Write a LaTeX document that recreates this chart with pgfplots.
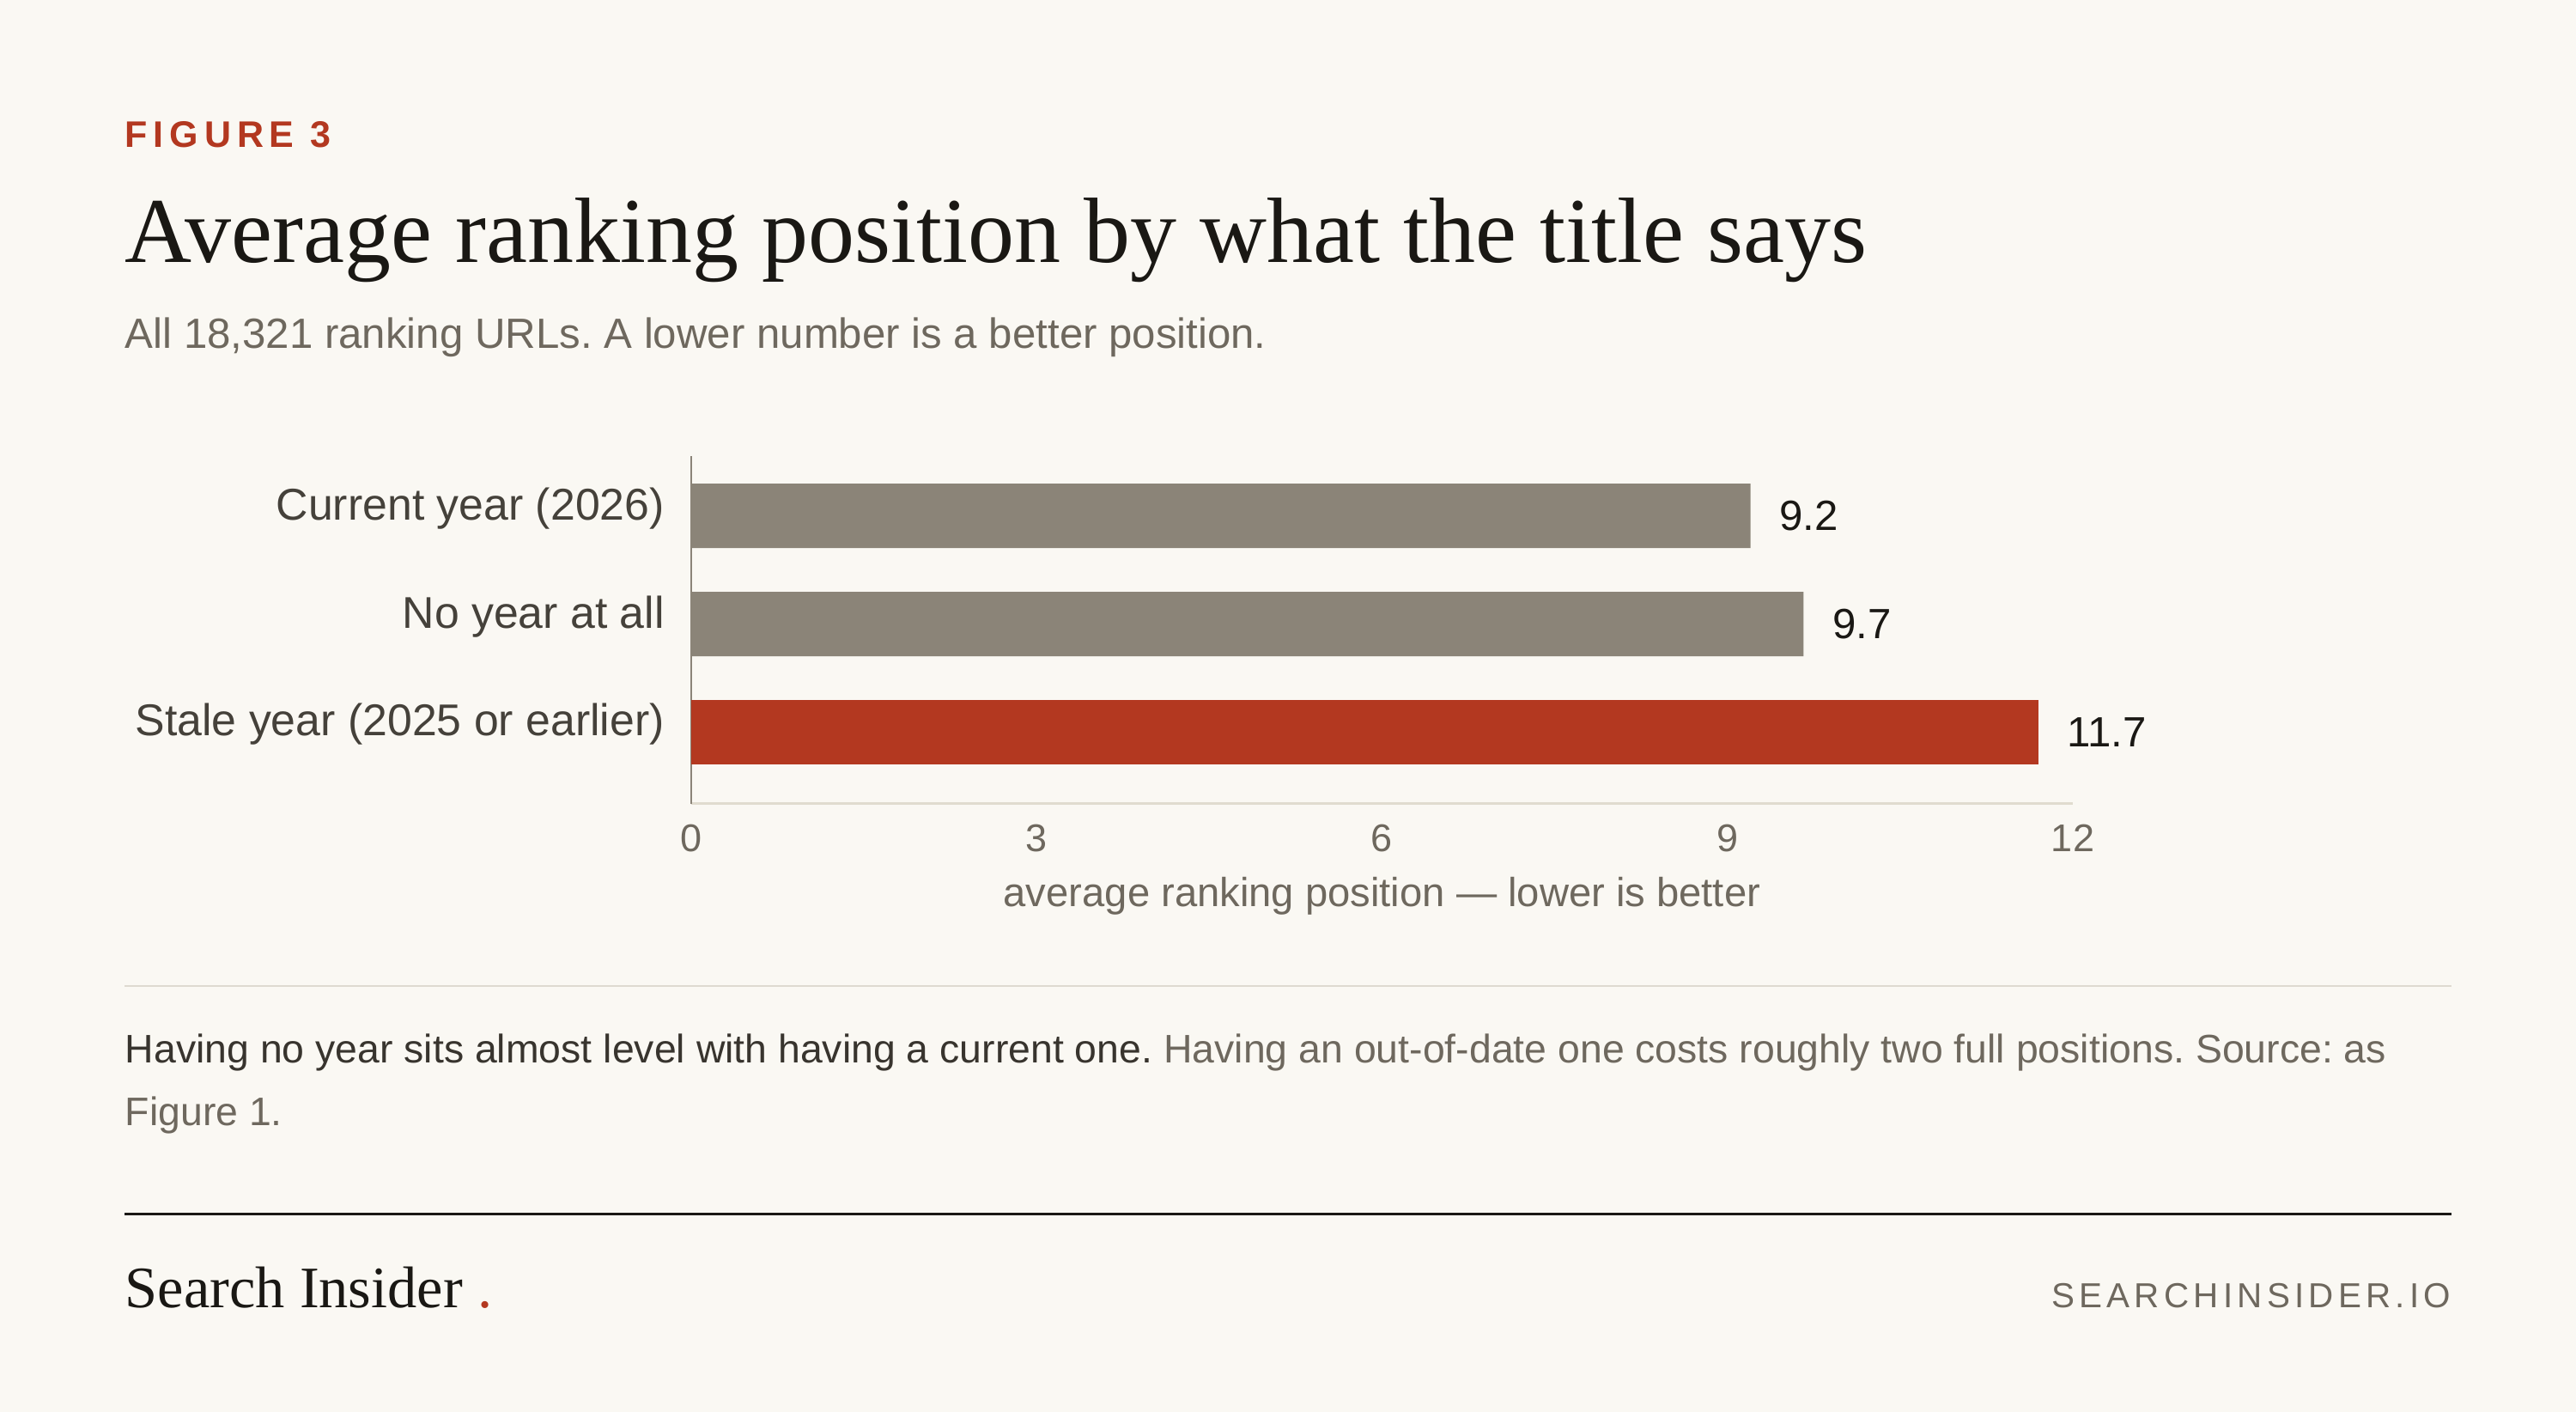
\documentclass[border=0pt]{standalone}
\usepackage{fontspec}
\setmainfont{Liberation Sans}
\newfontfamily\seriffont{Liberation Serif}
\newfontfamily\spacedfont[LetterSpace=13]{Liberation Sans}
\newfontfamily\figfont[LetterSpace=16]{Liberation Sans}
\usepackage{pgfplots}
\pgfplotsset{compat=1.18}
\definecolor{bg}{HTML}{FAF8F3}
\definecolor{figred}{HTML}{B33820}
\definecolor{barred}{HTML}{B33820}
\definecolor{bargray}{HTML}{8B8478}
\definecolor{ink}{HTML}{1A1814}
\definecolor{subgray}{HTML}{6E685E}
\definecolor{catgray}{HTML}{45413A}
\definecolor{capdark}{HTML}{38342E}
\definecolor{rulecol}{HTML}{DEDAD0}
\definecolor{xaxiscol}{HTML}{E0DBCF}
\definecolor{yaxiscol}{HTML}{8B8478}
\begin{document}
\frenchspacing
\begin{tikzpicture}
\fill[bg] (0,0) rectangle (750pt,411pt);
\useasboundingbox (0,0) rectangle (750pt,411pt);
\begin{scope}[x=0.25pt,y=0.25pt]
\node[anchor=base west, inner sep=0pt, text=figred, font=\fontsize{10.75pt}{12pt}\figfont\bfseries] at (145,1644-172) {FIGURE 3};
\node[anchor=base west, inner sep=0pt, text=ink, font=\fontsize{27pt}{30pt}\seriffont] at (145,1644-306) {Average ranking position by what the title says};
\node[anchor=base west, inner sep=0pt, text=subgray, font=\fontsize{12.3pt}{14pt}\selectfont] at (145,1644-406) {All 18,321 ranking URLs. A lower number is a better position.};
\draw[rulecol, line width=0.5pt] (145,1644-1148) -- (2855,1644-1148);
\node[anchor=base west, inner sep=0pt, text=subgray, font=\fontsize{11.6pt}{14pt}\selectfont] at (145,1644-1238) {{\color{capdark}Having no year sits almost level with having a current one.} Having an out-of-date one costs roughly two full positions. Source: as};
\node[anchor=base west, inner sep=0pt, text=subgray, font=\fontsize{11.6pt}{14pt}\selectfont] at (145,1644-1311) {Figure 1.};
\draw[ink, line width=0.75pt] (145,1644-1414) -- (2855,1644-1414);
\node[anchor=base west, inner sep=0pt, text=ink, font=\fontsize{17.1pt}{20pt}\seriffont] at (145,1644-1523) {Search Insider {\color{figred}.}};
\node[anchor=base east, inner sep=0pt, text=subgray, font=\fontsize{10.1pt}{12pt}\spacedfont] at (2855,1644-1523) {SEARCHINSIDER.IO};
\end{scope}
\begin{axis}[
  at={(201.25pt,177.1pt)}, anchor=south west,
  scale only axis, width=402.25pt, height=101.1pt,
  xmin=0, xmax=12, ymin=-0.659, ymax=2.552,
  axis x line*=bottom, axis y line*=left,
  x axis line style={draw=xaxiscol, line width=0.6pt},
  y axis line style={draw=yaxiscol, line width=0.4pt},
  xtick={0,3,6,9,12}, ytick={0,1,2},
  yticklabels={Stale year (2025 or earlier), No year at all, Current year (2026)},
  major tick length=0pt, tick style={draw=none},
  /pgf/number format/assume math mode=true,
  xticklabel style={anchor=base, yshift=-14.1pt, inner sep=0pt, font=\fontsize{11.25pt}{13pt}\selectfont, text=subgray},
  yticklabel style={anchor=base east, xshift=-7.6pt, yshift=-1.1pt, inner sep=0pt, font=\fontsize{12.95pt}{15pt}\selectfont, text=catgray},
  xlabel={average ranking position — lower is better},
  xlabel style={at={(axis description cs:0.5,0)}, anchor=base, yshift=-29.9pt, inner sep=0pt, font=\fontsize{11.8pt}{14pt}\selectfont, text=subgray},
  clip=false,
  xbar, bar width=18.75pt, bar shift=0pt,
  nodes near coords, point meta=explicit symbolic,
  every node near coord/.style={anchor=base west, inner sep=0pt, xshift=8.25pt, yshift=-4.25pt, font=\fontsize{12.3pt}{14pt}\selectfont, text=ink},
]
\addplot[fill=bargray, draw=none] coordinates {(9.2,2) [9.2] (9.66,1) [9.7]};
\addplot[fill=barred, draw=none] coordinates {(11.7,0) [11.7]};
\end{axis}
\end{tikzpicture}
\end{document}
